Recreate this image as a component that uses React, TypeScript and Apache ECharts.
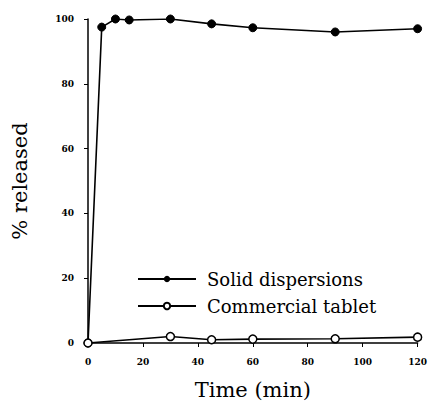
import React, { useEffect, useRef } from "react";
import * as echarts from "echarts";

const solidTimes = [0, 5, 10, 15, 30, 45, 60, 90, 120];
const solidDispersions = [0, 97.5, 100, 99.7, 100, 98.5, 97.3, 96, 97];
const tabletTimes = [0, 30, 45, 60, 90, 120];
const commercialTablet = [0, 2, 1, 1.2, 1.3, 1.8];
const xTicks = [0, 20, 40, 60, 80, 100, 120];
const yTicks = [0, 20, 40, 60, 80, 100];

const serif = "DejaVu Serif";

export default function App() {
  const ref = useRef<HTMLDivElement>(null);
  useEffect(() => {
    if (!ref.current) return;
    const chart = echarts.init(ref.current, undefined, { renderer: "svg" });
    const toPairs = (ts: number[], vals: number[]) => ts.map((t, i) => [t, vals[i]]);
    chart.setOption({
      animation: false,
      backgroundColor: "#ffffff",
      grid: { left: 88, right: 11, top: 19, bottom: 59 },
      xAxis: {
        type: "value",
        min: xTicks[0],
        max: xTicks[xTicks.length - 1],
        interval: 20,
        name: "Time (min)",
        nameLocation: "middle",
        nameGap: 36,
        nameTextStyle: { fontFamily: serif, fontSize: 21, color: "#000" },
        axisLine: { lineStyle: { color: "#000", width: 1.5 } },
        axisTick: { show: true, length: 4, lineStyle: { color: "#000" } },
        axisLabel: { fontFamily: serif, fontSize: 9, fontWeight: "bold", color: "#000", margin: 14 },
        splitLine: { show: false },
      },
      yAxis: {
        type: "value",
        min: yTicks[0],
        max: yTicks[yTicks.length - 1],
        interval: 20,
        name: "% released",
        nameLocation: "middle",
        nameGap: 58,
        nameTextStyle: { fontFamily: serif, fontSize: 21, color: "#000" },
        axisLine: { show: true, lineStyle: { color: "#000", width: 1.5 } },
        axisTick: { show: true, length: 4, lineStyle: { color: "#000" } },
        axisLabel: { fontFamily: serif, fontSize: 9, fontWeight: "bold", color: "#000", margin: 14 },
        splitLine: { show: false },
      },
      legend: {
        orient: "vertical",
        left: 132,
        top: 265,
        itemWidth: 58,
        itemHeight: 8,
        itemGap: 9,
        textStyle: { fontFamily: serif, fontSize: 18, color: "#000", padding: [0, 0, 0, 6] },
        data: ["Solid dispersions", "Commercial tablet"],
      },
      series: [
        {
          name: "Solid dispersions",
          type: "line",
          data: toPairs(solidTimes, solidDispersions),
          symbol: "circle",
          symbolSize: 8,
          itemStyle: { color: "#000", borderColor: "#000" },
          lineStyle: { color: "#000", width: 1.6 },
        },
        {
          name: "Commercial tablet",
          type: "line",
          data: toPairs(tabletTimes, commercialTablet),
          symbol: "circle",
          symbolSize: 8,
          itemStyle: { color: "#fff", borderColor: "#000", borderWidth: 1.5 },
          lineStyle: { color: "#000", width: 1.6 },
        },
      ],
    });
    return () => chart.dispose();
  }, []);
  return <div ref={ref} style={{ width: 430, height: 405, position: "absolute", left: 0, top: 0 }} />;
}
